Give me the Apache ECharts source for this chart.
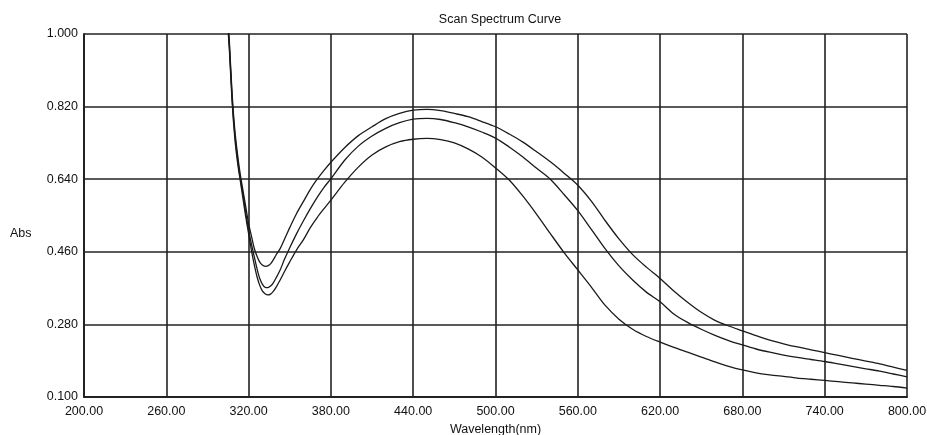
<!DOCTYPE html>
<html>
<head>
<meta charset="utf-8">
<script src="https://cdn.jsdelivr.net/npm/echarts@6/dist/echarts.min.js"></script>
<style>
  html, body { margin: 0; padding: 0; background: #fff; }
  #main { width: 927px; height: 435px; }
</style>
</head>
<body>
<div id="main"></div>
<script>
// wavelength (nm) and three absorbance scans
var wavelengths = [304, 306, 308, 310, 312, 314, 316, 318, 320, 322, 324, 326, 328, 330, 332, 334, 336, 338, 340, 343, 346, 350, 355, 360, 365, 370, 375, 380, 390, 400, 410, 420, 430, 440, 450, 460, 470, 480, 490, 500, 510, 520, 530, 540, 550, 560, 570, 580, 590, 600, 610, 620, 630, 640, 650, 660, 670, 680, 690, 700, 710, 720, 730, 740, 750, 760, 770, 780, 790, 800];

var absTop = [1.08, 0.98, 0.85, 0.76, 0.70, 0.65, 0.61, 0.57, 0.53, 0.50, 0.47, 0.45, 0.435, 0.427, 0.424, 0.425, 0.43, 0.44, 0.452, 0.468, 0.49, 0.52, 0.555, 0.585, 0.615, 0.64, 0.662, 0.682, 0.718, 0.748, 0.77, 0.79, 0.803, 0.811, 0.813, 0.81, 0.803, 0.795, 0.783, 0.77, 0.752, 0.732, 0.708, 0.683, 0.655, 0.625, 0.585, 0.537, 0.492, 0.453, 0.422, 0.394, 0.363, 0.335, 0.31, 0.29, 0.276, 0.264, 0.252, 0.241, 0.232, 0.224, 0.217, 0.21, 0.203, 0.196, 0.189, 0.182, 0.174, 0.166];

var absMid = [1.07, 0.97, 0.84, 0.75, 0.69, 0.64, 0.60, 0.555, 0.515, 0.48, 0.45, 0.42, 0.395, 0.38, 0.372, 0.371, 0.375, 0.383, 0.395, 0.415, 0.44, 0.47, 0.505, 0.537, 0.567, 0.595, 0.62, 0.641, 0.687, 0.722, 0.747, 0.766, 0.78, 0.789, 0.791, 0.788, 0.78, 0.77, 0.757, 0.742, 0.72, 0.695, 0.667, 0.64, 0.602, 0.562, 0.515, 0.467, 0.425, 0.39, 0.36, 0.336, 0.306, 0.285, 0.268, 0.253, 0.24, 0.229, 0.219, 0.211, 0.204, 0.198, 0.193, 0.188, 0.182, 0.176, 0.17, 0.164, 0.157, 0.15];

var absLow = [1.06, 0.96, 0.83, 0.74, 0.68, 0.635, 0.59, 0.545, 0.505, 0.465, 0.43, 0.40, 0.378, 0.363, 0.356, 0.353, 0.355, 0.362, 0.372, 0.39, 0.41, 0.435, 0.465, 0.49, 0.52, 0.545, 0.567, 0.588, 0.632, 0.67, 0.70, 0.72, 0.733, 0.739, 0.741, 0.738, 0.73, 0.715, 0.695, 0.668, 0.638, 0.598, 0.553, 0.505, 0.458, 0.415, 0.372, 0.327, 0.293, 0.268, 0.25, 0.236, 0.223, 0.211, 0.199, 0.187, 0.176, 0.167, 0.16, 0.155, 0.151, 0.147, 0.144, 0.141, 0.138, 0.135, 0.132, 0.129, 0.126, 0.122];

function pairs(ys) {
  return wavelengths.map(function (x, i) { return [x, ys[i]]; });
}

var font = 'Liberation Sans, Arial, sans-serif';
var chart = echarts.init(document.getElementById('main'));

var lineStyle = { color: '#1a1a1a', width: 1.3 };

chart.setOption({
  animation: false,
  backgroundColor: '#fff',
  title: {
    text: 'Scan Spectrum Curve',
    left: 495, top: 8, textAlign: 'center',
    textStyle: { fontFamily: font, fontSize: 12.5, fontWeight: 'normal', color: '#111' }
  },
  // "Abs" sits a bit below the middle of the plot, like in the instrument print
  graphic: [{
    type: 'text', left: 10, top: 227,
    style: { text: 'Abs', font: '12.5px ' + font, fill: '#111' }
  }],
  grid: { left: 84, right: 20, top: 34, bottom: 38, outerBoundsMode: 'none' },
  xAxis: {
    type: 'value',
    min: 200, max: 800, interval: 60,
    name: 'Wavelength(nm)',
    nameLocation: 'middle', nameGap: 21,
    nameTextStyle: { fontFamily: font, fontSize: 12.5, color: '#111' },
    axisLine: { lineStyle: { color: '#222', width: 2 } },
    axisTick: { show: false },
    axisLabel: {
      fontFamily: font, fontSize: 12.5, color: '#111', margin: 8,
      formatter: function (v) { return v.toFixed(2); }
    },
    splitLine: { show: true, lineStyle: { color: '#222', width: 1.6 } }
  },
  yAxis: {
    type: 'value',
    min: 0.1, max: 1.0, interval: 0.18,
    axisLine: { show: true, lineStyle: { color: '#222', width: 2 } },
    axisTick: { show: false },
    axisLabel: {
      fontFamily: font, fontSize: 12.5, color: '#111', margin: 6,
      formatter: function (v) { return v.toFixed(3); }
    },
    splitLine: { show: true, lineStyle: { color: '#222', width: 1.6 } }
  },
  series: [
    { type: 'line', data: pairs(absTop), showSymbol: false, smooth: 0.3, lineStyle: lineStyle },
    { type: 'line', data: pairs(absMid), showSymbol: false, smooth: 0.3, lineStyle: lineStyle },
    { type: 'line', data: pairs(absLow), showSymbol: false, smooth: 0.3, lineStyle: lineStyle }
  ]
});
</script>
</body>
</html>
